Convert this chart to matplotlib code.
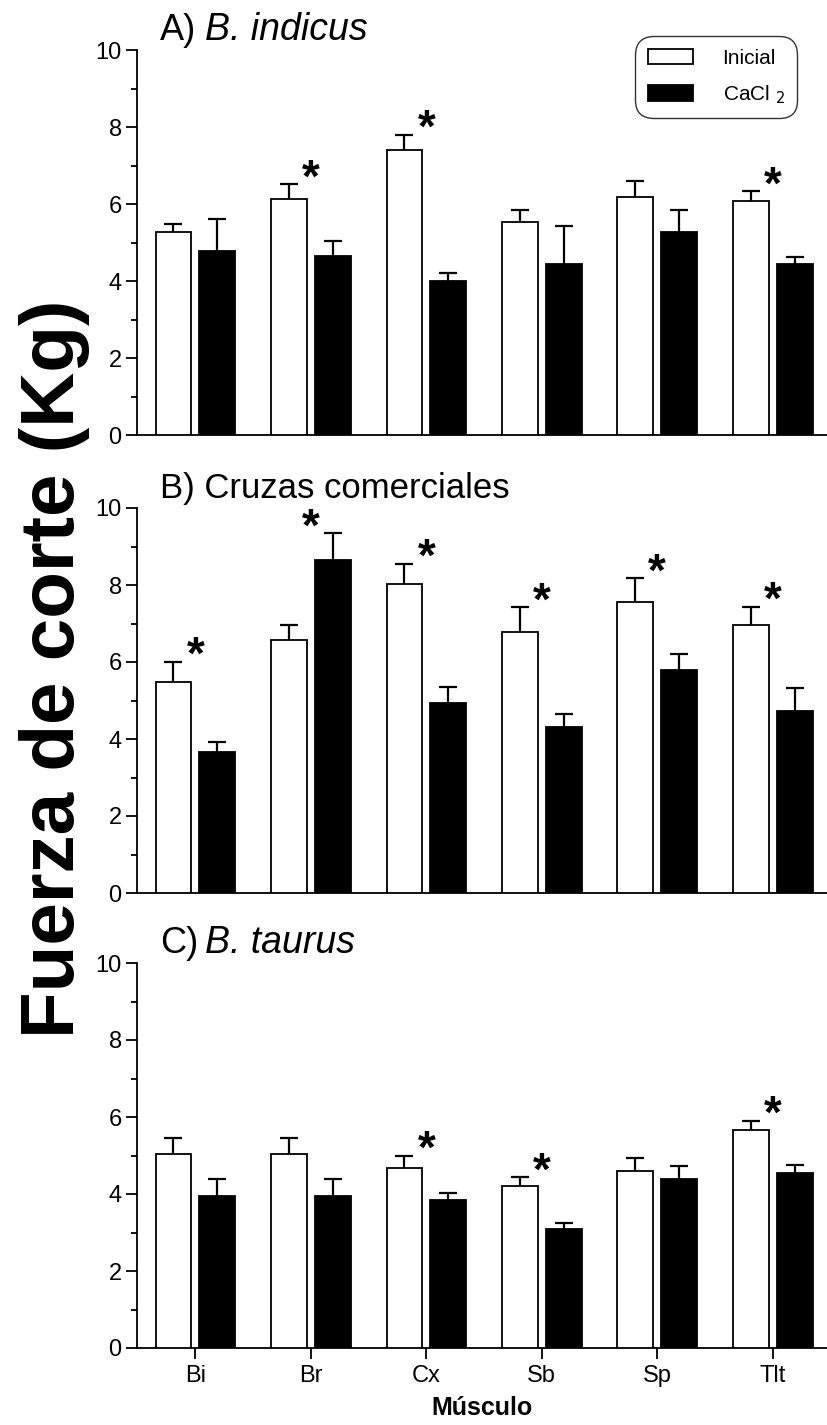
import matplotlib
matplotlib.use('Agg')
import matplotlib.pyplot as plt
import numpy as np

plt.rcParams['font.family'] = ['Liberation Sans', 'DejaVu Sans']

muscles = ['Bi', 'Br', 'Cx', 'Sb', 'Sp', 'Tlt']

indicus_inicial = [5.28, 6.14, 7.40, 5.53, 6.17, 6.09]
indicus_inicial_err = [0.19, 0.37, 0.40, 0.32, 0.44, 0.24]
indicus_cacl2 = [4.78, 4.66, 3.99, 4.45, 5.27, 4.45]
indicus_cacl2_err = [0.82, 0.37, 0.22, 0.99, 0.57, 0.17]
indicus_sig = [0, 1, 1, 0, 0, 1]

cruzas_inicial = [5.47, 6.56, 8.03, 6.79, 7.56, 6.95]
cruzas_inicial_err = [0.54, 0.41, 0.52, 0.63, 0.62, 0.48]
cruzas_cacl2 = [3.67, 8.64, 4.93, 4.30, 5.79, 4.73]
cruzas_cacl2_err = [0.24, 0.70, 0.41, 0.35, 0.41, 0.60]
cruzas_sig = [1, 1, 1, 1, 1, 1]

taurus_inicial = [5.05, 5.05, 4.68, 4.22, 4.61, 5.67]
taurus_inicial_err = [0.40, 0.40, 0.32, 0.21, 0.32, 0.23]
taurus_cacl2 = [3.96, 3.96, 3.84, 3.09, 4.40, 4.55]
taurus_cacl2_err = [0.43, 0.43, 0.19, 0.16, 0.32, 0.20]
taurus_sig = [0, 0, 1, 1, 0, 1]

panels = [
    ('A)', 'B. indicus', True, indicus_inicial, indicus_inicial_err, indicus_cacl2, indicus_cacl2_err, indicus_sig),
    ('B) Cruzas comerciales', '', False, cruzas_inicial, cruzas_inicial_err, cruzas_cacl2, cruzas_cacl2_err, cruzas_sig),
    ('C)', 'B. taurus', True, taurus_inicial, taurus_inicial_err, taurus_cacl2, taurus_cacl2_err, taurus_sig),
]

W, H = 827, 1425
fig = plt.figure(figsize=(W / 100, H / 100), dpi=100)

left_px = 137
tops_px = [50, 508, 963]
ph = 385

x = np.arange(len(muscles))
off = 0.19
bw = 0.31

axes = []
for i, (lab, name, ital, ini, ini_e, cac, cac_e, sig) in enumerate(panels):
    ax = fig.add_axes([left_px / W, 1 - (tops_px[i] + ph) / H, 1 - left_px / W, ph / H])
    axes.append(ax)
    ini = np.array(ini); cac = np.array(cac)
    ini_e = np.array(ini_e); cac_e = np.array(cac_e)

    ax.bar(x - off, ini, bw, facecolor='white', edgecolor='black', linewidth=1.3, zorder=3, label='Inicial')
    ax.bar(x + off, cac, bw, facecolor='black', edgecolor='black', linewidth=1.3, zorder=3, label='CaCl $_{2}$')
    for xs, vals, errs in ((x - off, ini, ini_e), (x + off, cac, cac_e)):
        eb = ax.errorbar(xs, vals, yerr=[np.zeros_like(errs), errs], fmt='none', ecolor='black',
                         elinewidth=1.6, capsize=6.5, capthick=1.6, zorder=2)
        for cl in eb[1]:
            if np.allclose(cl.get_ydata(), vals):
                cl.set_visible(False)

    tops = np.maximum(ini + ini_e, cac + cac_e)
    for xi, s, t in zip(x, sig, tops):
        if s:
            ax.annotate('*', xy=(xi, t + 0.5), xytext=(0, -19), textcoords='offset points',
                        ha='center', va='baseline', fontsize=33, fontweight='bold', zorder=5)

    ax.set_xlim(-0.506, 5.47)
    ax.set_ylim(0, 10)
    ax.set_yticks([0, 2, 4, 6, 8, 10])
    ax.set_yticks([1, 3, 5, 7, 9], minor=True)
    ax.tick_params(axis='y', which='major', length=8, width=1.3, labelsize=17, pad=3)
    ax.tick_params(axis='y', which='minor', length=4, width=1.3)
    for s in ('top', 'right'):
        ax.spines[s].set_visible(False)
    for s in ('left', 'bottom'):
        ax.spines[s].set_linewidth(1.3)

    if i < 2:
        ax.set_xticks([])
    else:
        ax.set_xticks(x)
        ax.set_xticklabels(muscles)
        ax.tick_params(axis='x', length=8, width=1.3, labelsize=17, pad=4)
        ax.set_xlabel('Músculo', fontsize=18, fontweight='bold', labelpad=7)

    ax.text(0.033, 1.026, lab, transform=ax.transAxes, fontsize=26 if name else 25,
            ha='left', va='baseline')
    if name:
        ax.text(0.099, 1.026, name, transform=ax.transAxes, fontsize=27,
                ha='left', va='baseline', style='italic')

    if i == 0:
        leg = ax.legend(loc='upper right', bbox_to_anchor=(0.957, 1.036), fontsize=15,
                        frameon=True, fancybox=True, edgecolor='black', handlelength=2.2,
                        handleheight=0.75, borderpad=0.6, labelspacing=0.75, handletextpad=1.4,
                        borderaxespad=0)
        fr = leg.get_frame()
        fr.set_linewidth(1.0)
        fr.set_boxstyle('round', pad=0, rounding_size=0.9)

fig.text(0.066, 0.531, 'Fuerza de corte (Kg)', rotation=90, fontsize=55, fontweight='bold',
         ha='center', va='center')

fig.savefig('out.png', dpi=100)
